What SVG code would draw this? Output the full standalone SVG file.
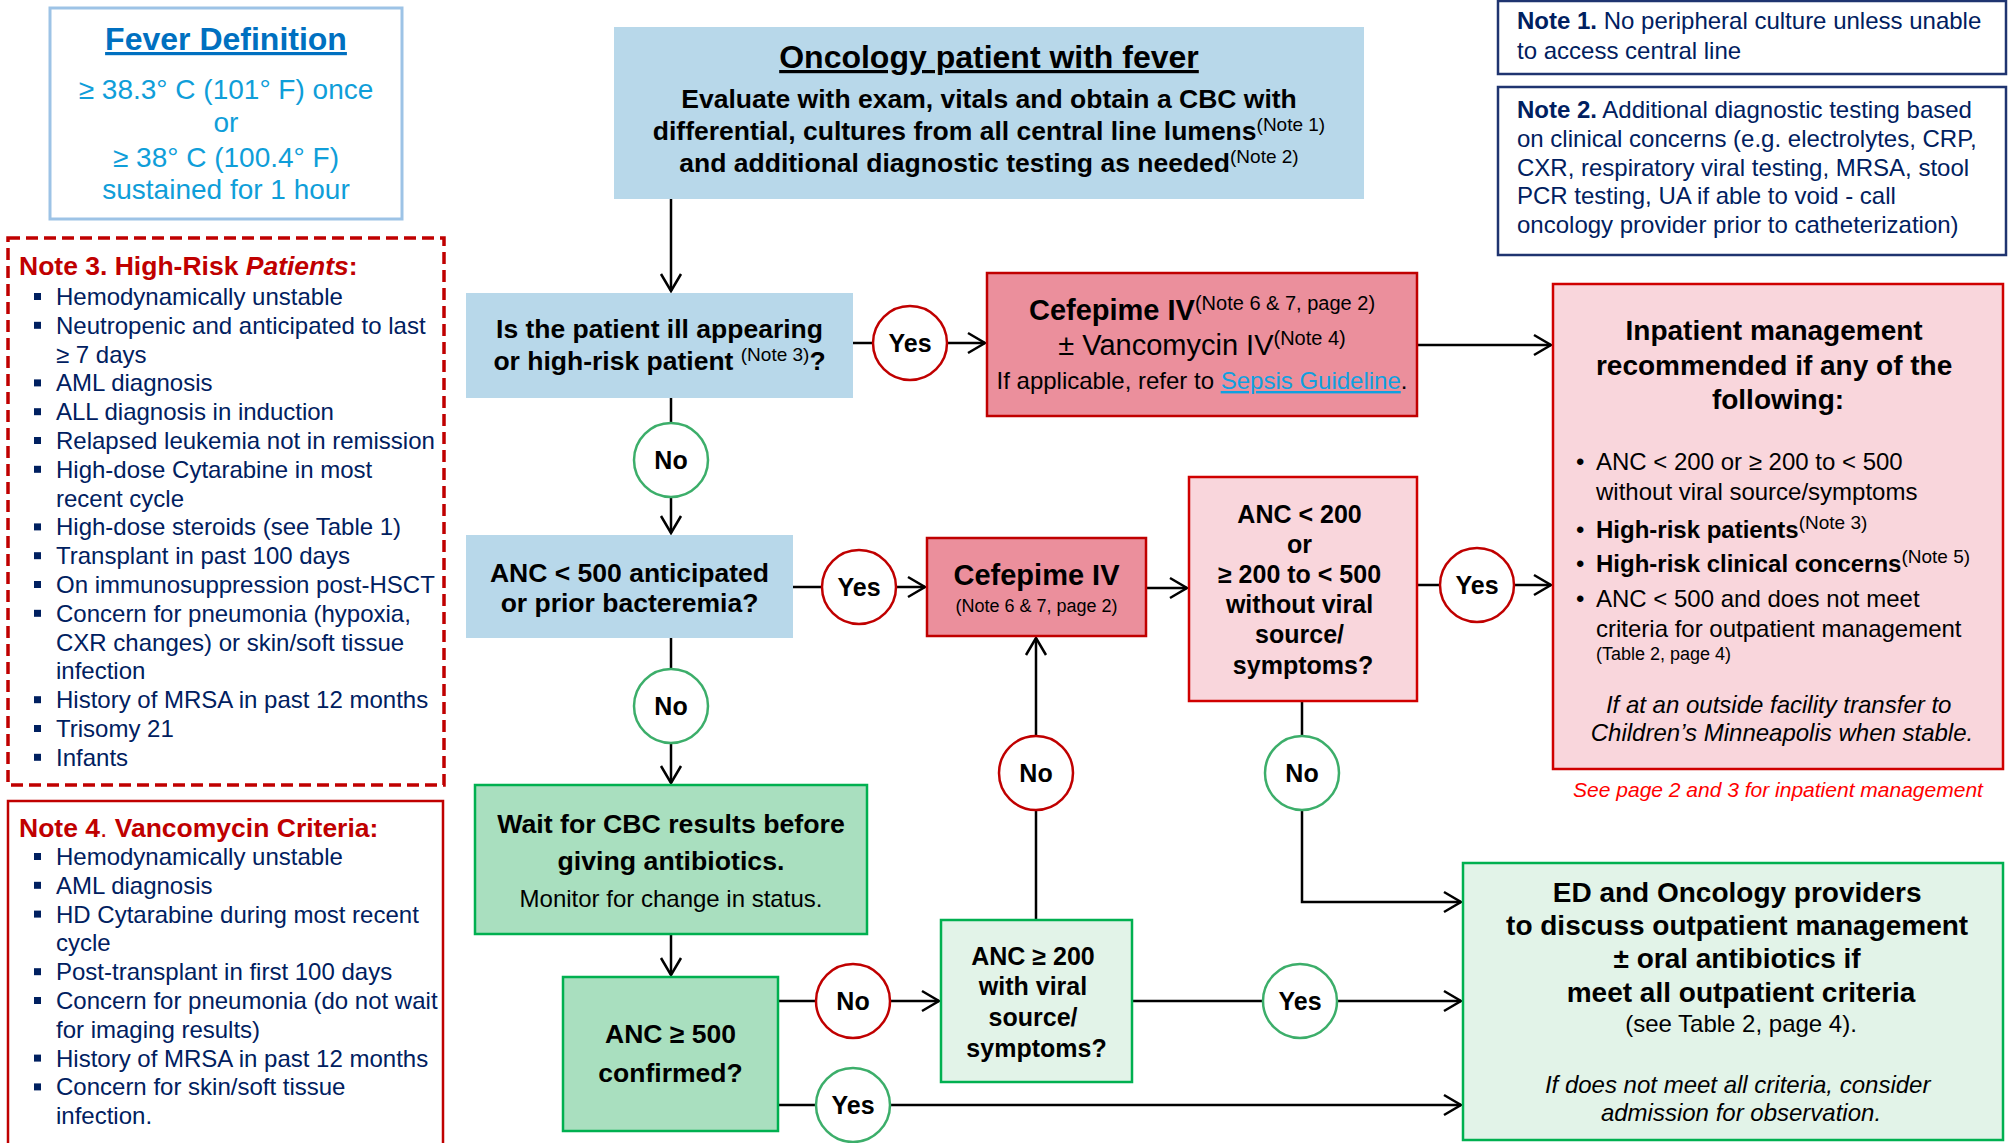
<svg xmlns="http://www.w3.org/2000/svg" xmlns:xlink="http://www.w3.org/1999/xlink" width="2011" height="1143" viewBox="0 0 2011 1143">
<defs>
<marker id="arr" markerUnits="userSpaceOnUse" markerWidth="24" markerHeight="24" refX="20" refY="12" orient="auto" viewBox="0 0 24 24">
<path d="M3,2 L20,12 L3,22" fill="none" stroke="#000" stroke-width="2.5"/>
</marker>
<rect id="sq" width="7" height="7" fill="#002060"/>
<style>
text{font-family:"Liberation Sans",Arial,Helvetica,sans-serif;fill:#000}
.b{font-weight:bold}
.i{font-style:italic}
.c{text-anchor:middle}
.u{text-decoration:underline}
.navy{fill:#002060}
.red{fill:#c00000}
.cn{fill:none;stroke:#000;stroke-width:2.5}
.cr{fill:#fff;stroke:#c00000;stroke-width:2.5}
.cg{fill:#fff;stroke:#3cae6a;stroke-width:2.5}
.lbl{font-size:25px;font-weight:bold;text-anchor:middle}
.blue{fill:#b8d8ea}
.pinkd{fill:#eb8f9c;stroke:#c00000;stroke-width:2.5}
.pinkl{fill:#f9d6dc;stroke:#d00000;stroke-width:2.5}
.greenm{fill:#a9dfbf;stroke:#00b050;stroke-width:2.5}
.greenl{fill:#e2f3e8;stroke:#00b050;stroke-width:2.5}
.note{fill:#fff;stroke:#1f3470;stroke-width:2.5}
.fv{fill:#0f9ed9}
</style>
</defs>

<g id="connectors">
<path class="cn" d="M671,199 V291" marker-end="url(#arr)"/>
<path class="cn" d="M853,343 H985" marker-end="url(#arr)"/>
<path class="cn" d="M671,398 V533" marker-end="url(#arr)"/>
<path class="cn" d="M1417,345 H1551" marker-end="url(#arr)"/>
<path class="cn" d="M793,587 H925" marker-end="url(#arr)"/>
<path class="cn" d="M671,638 V783" marker-end="url(#arr)"/>
<path class="cn" d="M1146,588 H1187" marker-end="url(#arr)"/>
<path class="cn" d="M1417,585 H1551" marker-end="url(#arr)"/>
<path class="cn" d="M1302,701 V902 H1461" marker-end="url(#arr)"/>
<path class="cn" d="M671,934 V975" marker-end="url(#arr)"/>
<path class="cn" d="M778,1001 H939" marker-end="url(#arr)"/>
<path class="cn" d="M1036,920 V638" marker-end="url(#arr)"/>
<path class="cn" d="M1132,1001 H1461" marker-end="url(#arr)"/>
<path class="cn" d="M778,1105 H1461" marker-end="url(#arr)"/>
</g>

<g id="fever-definition">
<rect x="50" y="8" width="352" height="211" fill="#fff" stroke="#9dc3e6" stroke-width="3"/>
<text x="226" y="50" class="b c u" font-size="32" style="fill:#0070c0">Fever Definition</text>
<text x="226" y="99" font-size="28" class="c fv">≥ 38.3° C (101° F) once</text>
<text x="226" y="132" font-size="28" class="c fv">or</text>
<text x="226" y="167" font-size="28" class="c fv">≥ 38° C (100.4° F)</text>
<text x="226" y="199" font-size="28" class="c fv">sustained for 1 hour</text>
</g>

<g id="note3">
<rect x="8" y="238" width="436" height="547" fill="#fff" stroke="#c00000" stroke-width="3.5" stroke-dasharray="12 6"/>
<text x="19" y="275" font-size="26.5" class="b red">Note 3. High-Risk <tspan class="i">Patients</tspan>:</text>
<use xlink:href="#sq" x="34" y="293"/>
<use xlink:href="#sq" x="34" y="321.8"/>
<use xlink:href="#sq" x="34" y="379.4"/>
<use xlink:href="#sq" x="34" y="408.2"/>
<use xlink:href="#sq" x="34" y="437"/>
<use xlink:href="#sq" x="34" y="465.8"/>
<use xlink:href="#sq" x="34" y="523.4"/>
<use xlink:href="#sq" x="34" y="552.2"/>
<use xlink:href="#sq" x="34" y="581"/>
<use xlink:href="#sq" x="34" y="609.8"/>
<use xlink:href="#sq" x="34" y="696.2"/>
<use xlink:href="#sq" x="34" y="725"/>
<use xlink:href="#sq" x="34" y="753.8"/>
<text font-size="24" class="navy">
<tspan x="56" y="305">Hemodynamically unstable</tspan>
<tspan x="56" y="333.8">Neutropenic and anticipated to last</tspan>
<tspan x="56" y="362.6">≥ 7 days</tspan>
<tspan x="56" y="391.4">AML diagnosis</tspan>
<tspan x="56" y="420.2">ALL diagnosis in induction</tspan>
<tspan x="56" y="449">Relapsed leukemia not in remission</tspan>
<tspan x="56" y="477.8">High-dose Cytarabine in most</tspan>
<tspan x="56" y="506.6">recent cycle</tspan>
<tspan x="56" y="535.4">High-dose steroids (see Table 1)</tspan>
<tspan x="56" y="564.2">Transplant in past 100 days</tspan>
<tspan x="56" y="593">On immunosuppression post-HSCT</tspan>
<tspan x="56" y="621.8">Concern for pneumonia (hypoxia,</tspan>
<tspan x="56" y="650.6">CXR changes) or skin/soft tissue</tspan>
<tspan x="56" y="679.4">infection</tspan>
<tspan x="56" y="708.2">History of MRSA in past 12 months</tspan>
<tspan x="56" y="737">Trisomy 21</tspan>
<tspan x="56" y="765.8">Infants</tspan>
</text>
</g>

<g id="note4">
<rect x="8" y="801" width="435" height="360" fill="#fff" stroke="#c00000" stroke-width="2.5"/>
<text x="19" y="837" font-size="26.5" class="red"><tspan class="b">Note 4</tspan>. <tspan class="b">Vancomycin Criteria:</tspan></text>
<use xlink:href="#sq" x="34" y="853"/>
<use xlink:href="#sq" x="34" y="881.8"/>
<use xlink:href="#sq" x="34" y="910.6"/>
<use xlink:href="#sq" x="34" y="968.2"/>
<use xlink:href="#sq" x="34" y="997"/>
<use xlink:href="#sq" x="34" y="1054.6"/>
<use xlink:href="#sq" x="34" y="1083.4"/>
<text font-size="24" class="navy">
<tspan x="56" y="865">Hemodynamically unstable</tspan>
<tspan x="56" y="893.8">AML diagnosis</tspan>
<tspan x="56" y="922.6">HD Cytarabine during most recent</tspan>
<tspan x="56" y="951.4">cycle</tspan>
<tspan x="56" y="980.2">Post-transplant in first 100 days</tspan>
<tspan x="56" y="1009">Concern for pneumonia (do not wait</tspan>
<tspan x="56" y="1037.8">for imaging results)</tspan>
<tspan x="56" y="1066.6">History of MRSA in past 12 months</tspan>
<tspan x="56" y="1095.4">Concern for skin/soft tissue</tspan>
<tspan x="56" y="1124.2">infection.</tspan>
</text>
</g>

<g id="note1">
<rect class="note" x="1498" y="1" width="508" height="73"/>
<text x="1517" y="29" font-size="24" class="navy"><tspan class="b">Note 1.</tspan> No peripheral culture unless unable</text>
<text x="1517" y="59" font-size="24" class="navy">to access central line</text>
</g>

<g id="note2">
<rect class="note" x="1498" y="87" width="508" height="168"/>
<text font-size="24" class="navy">
<tspan x="1517" y="118"><tspan class="b">Note 2.</tspan> Additional diagnostic testing based</tspan>
<tspan x="1517" y="147">on clinical concerns (e.g. electrolytes, CRP,</tspan>
<tspan x="1517" y="176">CXR, respiratory viral testing, MRSA, stool</tspan>
<tspan x="1517" y="204">PCR testing, UA if able to void - call</tspan>
<tspan x="1517" y="233">oncology provider prior to catheterization)</tspan>
</text>
</g>

<g id="start">
<rect class="blue" x="614" y="27" width="750" height="172"/>
<text x="989" y="68" font-size="32" class="b c u">Oncology patient with fever</text>
<text x="989" y="108" font-size="26.5" class="b c">Evaluate with exam, vitals and obtain a CBC with</text>
<text x="989" y="140" font-size="26.5" class="b c">differential, cultures from all central line lumens<tspan font-size="19" font-weight="normal" dy="-9">(Note 1)</tspan></text>
<text x="989" y="172" font-size="26.5" class="b c">and additional diagnostic testing as needed<tspan font-size="19" font-weight="normal" dy="-9">(Note 2)</tspan></text>
</g>

<g id="ill-appearing">
<rect class="blue" x="466" y="293" width="387" height="105"/>
<text x="659.5" y="338" font-size="26.5" class="b c">Is the patient ill appearing</text>
<text x="659.5" y="370" font-size="26.5" class="b c">or high-risk patient <tspan font-size="19" font-weight="normal" dy="-9">(Note 3)</tspan><tspan dy="9">?</tspan></text>
</g>

<g id="cefepime-vanco">
<rect class="pinkd" x="987" y="273" width="430" height="143"/>
<text x="1202" y="320" font-size="29" class="b c">Cefepime IV<tspan font-size="20" font-weight="normal" dy="-10">(Note 6 &amp; 7, page 2)</tspan></text>
<text x="1202" y="355" font-size="29" class="c">± Vancomycin IV<tspan font-size="20" dy="-10">(Note 4)</tspan></text>
<text x="1202" y="389" font-size="24" class="c">If applicable, refer to <tspan class="u" style="fill:#0fa0e0">Sepsis Guideline</tspan>.</text>
</g>

<g id="anc-500">
<rect class="blue" x="466" y="535" width="327" height="103"/>
<text x="629.5" y="582" font-size="26.5" class="b c">ANC &lt; 500 anticipated</text>
<text x="629.5" y="612" font-size="26.5" class="b c">or prior bacteremia?</text>
</g>

<g id="cefepime">
<rect class="pinkd" x="927" y="538" width="219" height="98"/>
<text x="1036.5" y="585" font-size="29" class="b c">Cefepime IV</text>
<text x="1036.5" y="612" font-size="18" class="c">(Note 6 &amp; 7, page 2)</text>
</g>

<g id="anc-200">
<rect class="pinkl" x="1189" y="477" width="228" height="224"/>
<text font-size="25" class="b c">
<tspan x="1303" y="523">ANC &lt; 200</tspan>
<tspan x="1303" y="553">or</tspan>
<tspan x="1303" y="583">≥ 200 to &lt; 500</tspan>
<tspan x="1303" y="613">without viral</tspan>
<tspan x="1303" y="643">source/</tspan>
<tspan x="1303" y="674">symptoms?</tspan>
</text>
</g>

<g id="inpatient">
<rect class="pinkl" x="1553" y="284" width="450" height="485"/>
<text font-size="28" class="b c">
<tspan x="1778" y="340">Inpatient management</tspan>
<tspan x="1778" y="375">recommended if any of the</tspan>
<tspan x="1778" y="409">following:</tspan>
</text>
<text font-size="24">
<tspan x="1576" y="470">•</tspan><tspan x="1596" y="470">ANC &lt; 200 or ≥ 200 to &lt; 500</tspan>
<tspan x="1596" y="500">without viral source/symptoms</tspan>
<tspan x="1576" y="538">•</tspan><tspan x="1596" y="538" class="b">High-risk patients</tspan><tspan font-size="19" dy="-9">(Note 3)</tspan>
<tspan x="1576" y="572">•</tspan><tspan x="1596" y="572" class="b">High-risk clinical concerns</tspan><tspan font-size="19" dy="-9">(Note 5)</tspan>
<tspan x="1576" y="607">•</tspan><tspan x="1596" y="607">ANC &lt; 500 and does not meet</tspan>
<tspan x="1596" y="637">criteria for outpatient management</tspan>
<tspan x="1596" y="660" font-size="18">(Table 2, page 4)</tspan>
</text>
<text font-size="24" class="i c">
<tspan x="1782" y="713">If at an outside facility transfer to</tspan>
<tspan x="1782" y="741">Children’s Minneapolis when stable.</tspan>
</text>
<text x="1778" y="797" font-size="21" class="i c" style="fill:#ff0000">See page 2 and 3 for inpatient management</text>
</g>

<g id="wait-cbc">
<rect class="greenm" x="475" y="785" width="392" height="149"/>
<text x="671" y="833" font-size="26.7" class="b c">Wait for CBC results before</text>
<text x="671" y="870" font-size="26.7" class="b c">giving antibiotics.</text>
<text x="671" y="907" font-size="24" class="c">Monitor for change in status.</text>
</g>

<g id="anc-500-confirmed">
<rect class="greenm" x="563" y="977" width="215" height="154"/>
<text x="670.5" y="1043" font-size="26.5" class="b c">ANC ≥ 500</text>
<text x="670.5" y="1082" font-size="26.5" class="b c">confirmed?</text>
</g>

<g id="anc-200-viral">
<rect class="greenl" x="941" y="920" width="191" height="162"/>
<text font-size="25" class="b c">
<tspan x="1036.5" y="965">ANC ≥ 200</tspan>
<tspan x="1036.5" y="995">with viral</tspan>
<tspan x="1036.5" y="1026">source/</tspan>
<tspan x="1036.5" y="1057">symptoms?</tspan>
</text>
</g>

<g id="outpatient">
<rect class="greenl" x="1463" y="863" width="540" height="277"/>
<text font-size="28" class="b c">
<tspan x="1741" y="902">ED and Oncology providers</tspan>
<tspan x="1741" y="935">to discuss outpatient management</tspan>
<tspan x="1741" y="968">± oral antibiotics if</tspan>
<tspan x="1741" y="1002">meet all outpatient criteria</tspan>
</text>
<text x="1741" y="1032" font-size="24" class="c">(see Table 2, page 4).</text>
<text font-size="24" class="i c">
<tspan x="1741" y="1093">If does not meet all criteria, consider</tspan>
<tspan x="1741" y="1121">admission for observation.</tspan>
</text>
</g>

<g id="yes-1"><circle class="cr" cx="910" cy="343" r="37"/><text class="lbl" x="910" y="352">Yes</text></g>
<g id="no-1"><circle class="cg" cx="671" cy="460" r="37"/><text class="lbl" x="671" y="469">No</text></g>
<g id="yes-2"><circle class="cr" cx="859" cy="587" r="37"/><text class="lbl" x="859" y="596">Yes</text></g>
<g id="no-2"><circle class="cg" cx="671" cy="706" r="37"/><text class="lbl" x="671" y="715">No</text></g>
<g id="yes-3"><circle class="cr" cx="1477" cy="585" r="37"/><text class="lbl" x="1477" y="594">Yes</text></g>
<g id="no-4"><circle class="cr" cx="1036" cy="773" r="37"/><text class="lbl" x="1036" y="782">No</text></g>
<g id="no-5"><circle class="cg" cx="1302" cy="773" r="37"/><text class="lbl" x="1302" y="782">No</text></g>
<g id="no-3"><circle class="cr" cx="853" cy="1001" r="37"/><text class="lbl" x="853" y="1010">No</text></g>
<g id="yes-6"><circle class="cg" cx="1300" cy="1001" r="37"/><text class="lbl" x="1300" y="1010">Yes</text></g>
<g id="yes-7"><circle class="cg" cx="853" cy="1105" r="37"/><text class="lbl" x="853" y="1114">Yes</text></g>
</svg>
